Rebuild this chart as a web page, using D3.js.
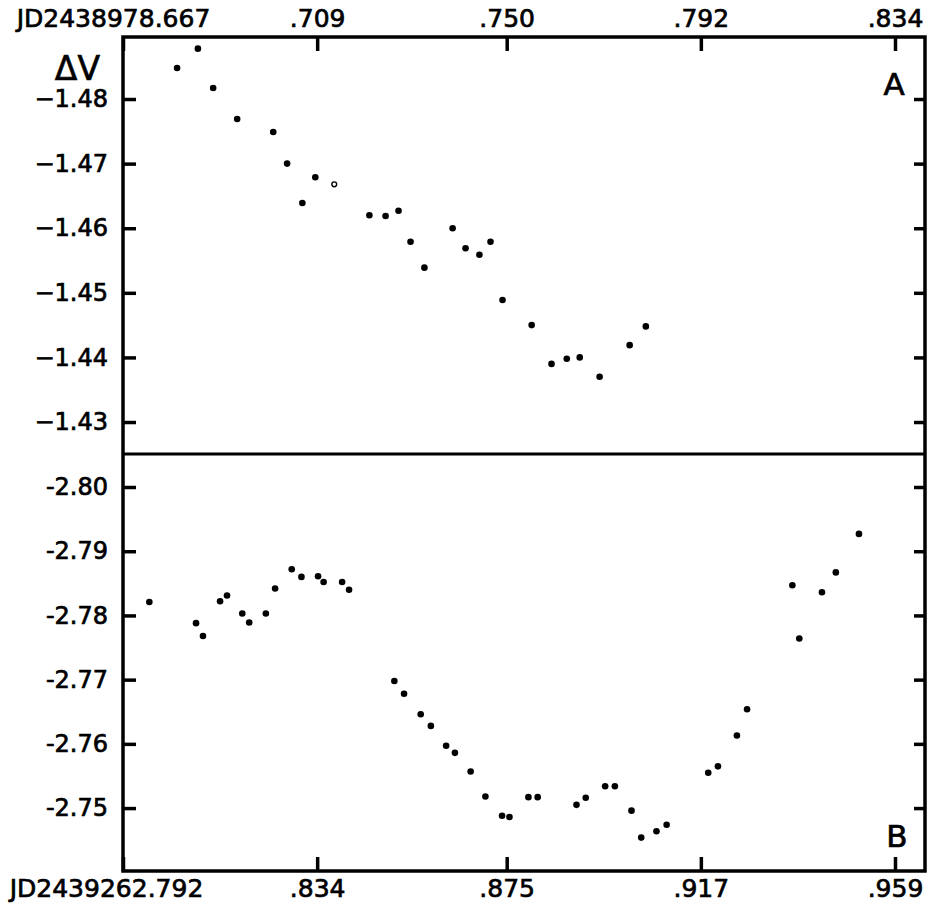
<!DOCTYPE html>
<html>
<head>
<meta charset="utf-8">
<script src="https://cdn.jsdelivr.net/npm/d3@7"></script>
<style>
  body { margin: 0; background: #fff; }
  svg text { font-family: "DejaVu Sans", sans-serif; fill: #000; stroke: #000; stroke-width: 0.7px; }
</style>
</head>
<body>
<div id="canvas"></div>
<script>
// panel A: fraction of JD2438978 and delta V
const topX = [0.6787, 0.6832, 0.6865, 0.6917, 0.6995, 0.7025, 0.7058, 0.7086, 0.7127, 0.7203, 0.7238, 0.7266, 0.7292,
  0.7322, 0.7383, 0.7411, 0.7441, 0.7465, 0.7491, 0.7554, 0.7597, 0.7630, 0.7658, 0.7701, 0.7766, 0.7801]
const topV = [-1.4848, -1.4878, -1.4817, -1.4769, -1.4749, -1.4700, -1.4639, -1.4679, -1.4668, -1.4620, -1.4619, -1.4627, -1.4579,
  -1.4539, -1.4600, -1.4569, -1.4559, -1.4579, -1.4489, -1.4450, -1.4390, -1.4398, -1.4400, -1.4370, -1.4419, -1.4448]
const topOpen = [8] // index of the open circle

// panel B: fraction of JD2439262 and delta V
const bottomX = [0.7977, 0.8078, 0.8093, 0.8130, 0.8145, 0.8178, 0.8193, 0.8229, 0.8249, 0.8285, 0.8306, 0.8342, 0.8354, 0.8394, 0.8409,
  0.8507, 0.8528, 0.8564, 0.8586, 0.8619, 0.8638, 0.8672, 0.8704, 0.8740, 0.8756, 0.8797, 0.8817, 0.8901, 0.8921, 0.8963,
  0.8984, 0.9020, 0.9041, 0.9074, 0.9096, 0.9186, 0.9207, 0.9248, 0.9270, 0.9368, 0.9383, 0.9432, 0.9462, 0.9512]
const bottomV = [-2.7821, -2.7788, -2.7768, -2.7822, -2.7831, -2.7803, -2.7789, -2.7803, -2.7842, -2.7872, -2.7860, -2.7861, -2.7852, -2.7852, -2.7840,
  -2.7698, -2.7678, -2.7646, -2.7628, -2.7597, -2.7586, -2.7557, -2.7518, -2.7488, -2.7486, -2.7517, -2.7517, -2.7505, -2.7516, -2.7534,
  -2.7534, -2.7496, -2.7454, -2.7464, -2.7474, -2.7555, -2.7565, -2.7613, -2.7654, -2.7847, -2.7764, -2.7836, -2.7867, -2.7927]

// ticks
const topXTicks = [0.667, 0.709, 0.750, 0.792, 0.834]
const topXLabels = ["JD2438978.667", ".709", ".750", ".792", ".834"]
const bottomXTicks = [0.792, 0.834, 0.875, 0.917, 0.959]
const bottomXLabels = ["JD2439262.792", ".834", ".875", ".917", ".959"]
const topYTicks = [-1.48, -1.47, -1.46, -1.45, -1.44, -1.43]
const bottomYTicks = [-2.80, -2.79, -2.78, -2.77, -2.76, -2.75]

const width = 930, height = 907
const frame = { left: 123, right: 925, top: 37, mid: 454, bottom: 871 }

const svg = d3.select("#canvas").append("svg")
    .attr("width", width)
    .attr("height", height)

// scales
const pxPerDay = (895 - frame.left) / (0.834 - 0.667)
const xTop = d3.scaleLinear()
    .domain([0.667, 0.667 + (frame.right - frame.left) / pxPerDay])
    .range([frame.left, frame.right])
const xBottom = d3.scaleLinear()
    .domain([0.792, 0.792 + (frame.right - frame.left) / pxPerDay])
    .range([frame.left, frame.right])

const yTop = d3.scaleLinear().domain([-1.4896, -1.42505]).range([frame.top, frame.mid])
const yBottom = d3.scaleLinear().domain([-2.80514, -2.7402]).range([frame.mid, frame.bottom])

// axes
function styleAxis(g) {
    g.select(".domain").remove()
    g.selectAll(".tick line").attr("stroke", "#000").attr("stroke-width", 3.5)
    g.selectAll(".tick text").style("font-family", "DejaVu Sans, sans-serif").attr("fill", "#000")
}

svg.append("g")
    .attr("transform", `translate(0,${frame.top})`)
    .call(d3.axisTop(xTop).tickValues(topXTicks).tickSizeInner(-14).tickSizeOuter(0).tickPadding(10)
        .tickFormat((d, i) => topXLabels[i]))
    .call(styleAxis)
    .call(g => g.selectAll(".tick text").attr("font-size", 25).attr("dx", (d, i) => i === 0 ? -10 : 0))

svg.append("g")
    .attr("transform", `translate(0,${frame.bottom})`)
    .call(d3.axisBottom(xBottom).tickValues(bottomXTicks).tickSizeInner(-14).tickSizeOuter(0).tickPadding(8)
        .tickFormat((d, i) => bottomXLabels[i]))
    .call(styleAxis)
    .call(g => g.selectAll(".tick text").attr("font-size", 25).attr("dx", (d, i) => i === 0 ? -17 : 0))

svg.append("g")
    .attr("transform", `translate(${frame.left},0)`)
    .call(d3.axisLeft(yTop).tickValues(topYTicks).tickSizeInner(-13).tickSizeOuter(0).tickPadding(15)
        .tickFormat(d => "\u2212" + d3.format(".2f")(-d)))
    .call(styleAxis)
    .call(g => g.selectAll(".tick text").attr("font-size", 24))

svg.append("g")
    .attr("transform", `translate(${frame.left},0)`)
    .call(d3.axisLeft(yBottom).tickValues(bottomYTicks).tickSizeInner(-13).tickSizeOuter(0).tickPadding(15)
        .tickFormat(d => "-" + d3.format(".2f")(-d)))
    .call(styleAxis)
    .call(g => g.selectAll(".tick text").attr("font-size", 24))

svg.append("g")
    .attr("transform", `translate(${frame.right},0)`)
    .call(d3.axisRight(yTop).tickValues(topYTicks).tickSizeInner(-11).tickSizeOuter(0).tickFormat(""))
    .call(styleAxis)

svg.append("g")
    .attr("transform", `translate(${frame.right},0)`)
    .call(d3.axisRight(yBottom).tickValues(bottomYTicks).tickSizeInner(-11).tickSizeOuter(0).tickFormat(""))
    .call(styleAxis)

// frame and divider
svg.append("rect")
    .attr("x", frame.left).attr("y", frame.top)
    .attr("width", frame.right - frame.left).attr("height", frame.bottom - frame.top)
    .attr("fill", "none").attr("stroke", "#000").attr("stroke-width", 3.5)

svg.append("line")
    .attr("x1", frame.left).attr("x2", frame.right)
    .attr("y1", frame.mid).attr("y2", frame.mid)
    .attr("stroke", "#000").attr("stroke-width", 3)

// points
svg.append("g").selectAll("circle")
    .data(topX.map((x, i) => ({ x, v: topV[i], open: topOpen.includes(i) })))
    .join("circle")
    .attr("cx", d => xTop(d.x))
    .attr("cy", d => yTop(d.v))
    .attr("r", d => d.open ? 2.4 : 3.3)
    .attr("fill", d => d.open ? "#fff" : "#000")
    .attr("stroke", "#000")
    .attr("stroke-width", d => d.open ? 1.4 : 0)

svg.append("g").selectAll("circle")
    .data(bottomX.map((x, i) => ({ x, v: bottomV[i] })))
    .join("circle")
    .attr("cx", d => xBottom(d.x))
    .attr("cy", d => yBottom(d.v))
    .attr("r", 3.3)
    .attr("fill", "#000")

// labels
svg.append("text").attr("x", 100).attr("y", 80).attr("text-anchor", "end")
    .attr("font-size", 33).text("ΔV")
svg.append("text").attr("x", 894).attr("y", 95).attr("text-anchor", "middle")
    .attr("font-size", 31).text("A")
svg.append("text").attr("x", 897).attr("y", 847).attr("text-anchor", "middle")
    .attr("font-size", 31).text("B")
</script>
</body>
</html>
